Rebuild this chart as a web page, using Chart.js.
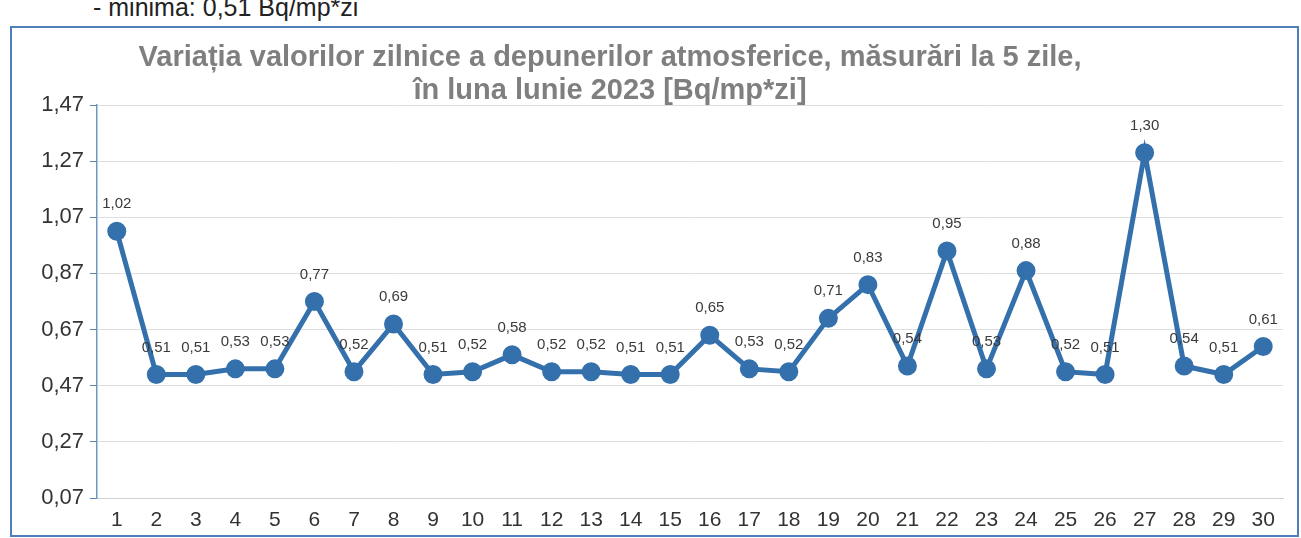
<!DOCTYPE html>
<html>
<head>
<meta charset="utf-8">
<script src="https://cdn.jsdelivr.net/npm/chart.js@4"></script>
<style>
  body { margin: 0; width: 1301px; height: 538px; overflow: hidden; background: #fff; position: relative; font-family: Arial, "Liberation Sans", sans-serif; }
  #note { position: absolute; left: 93px; top: -7px; font-size: 25px; color: #222; white-space: nowrap; }
  #frame { position: absolute; left: 10px; top: 26px; width: 1285px; height: 507px; border: 2px solid #4f7fb8; }
  #title { position: absolute; left: 60px; width: 1100px; top: 40px; text-align: center; font-size: 29px; font-weight: bold; color: #7f7f7f; line-height: 33px; }
  #wrap { position: absolute; left: 0; top: 0; width: 1301px; height: 538px; }
</style>
</head>
<body>
<div id="note">- minima: 0,51 Bq/mp*zi</div>
<div id="frame"></div>
<div id="wrap"><canvas id="chart"></canvas></div>
<div id="title">Variația valorilor zilnice a depunerilor atmosferice, măsurări la 5 zile,<br>în luna lunie 2023 [Bq/mp*zi]</div>
<script>
const days = ['1', '2', '3', '4', '5', '6', '7', '8', '9', '10', '11', '12', '13', '14', '15',
    '16', '17', '18', '19', '20', '21', '22', '23', '24', '25', '26', '27', '28', '29', '30'];
const values = [1.02, 0.51, 0.51, 0.53, 0.53, 0.77, 0.52, 0.69, 0.51, 0.52, 0.58, 0.52, 0.52, 0.51, 0.51,
    0.65, 0.53, 0.52, 0.71, 0.83, 0.54, 0.95, 0.53, 0.88, 0.52, 0.51, 1.30, 0.54, 0.51, 0.61];
const yTicks = { min: 0.07, max: 1.47, step: 0.2 };

const lineColor = '#3470ab';
const fmt = v => v.toFixed(2).replace('.', ',');

// simple value labels above every point
const valueLabels = {
    id: 'valueLabels',
    afterDatasetsDraw(chart) {
        const ctx = chart.ctx;
        const meta = chart.getDatasetMeta(0);
        ctx.save();
        ctx.font = '15px Arial, "Liberation Sans", sans-serif';
        ctx.fillStyle = '#3a3a3a';
        ctx.textAlign = 'center';
        ctx.textBaseline = 'middle';
        meta.data.forEach((pt, i) => {
            ctx.fillText(fmt(values[i]), pt.x, pt.y - 27);
        });
        ctx.restore();
    }
};

const ctx = document.getElementById('chart').getContext('2d');
new Chart(ctx, {
    type: 'line',
    data: {
        labels: days,
        datasets: [{
            data: values,
            borderColor: lineColor,
            backgroundColor: lineColor,
            borderWidth: 5,
            pointRadius: 7,
            pointHoverRadius: 7,
            tension: 0,
        }]
    },
    options: {
        responsive: true,
        maintainAspectRatio: false,
        animation: false,
        layout: { padding: { top: 105, right: 18, left: 0, bottom: 0 } },
        plugins: {
            legend: { display: false },
            tooltip: { enabled: false },
        },
        scales: {
            x: {
                offset: true,
                grid: { display: false, drawTicks: false },
                border: { display: true, color: '#d0d0d0' },
                ticks: {
                    padding: 10,
                    color: '#333',
                    font: { size: 21, family: 'Arial, "Liberation Sans", sans-serif' },
                    maxRotation: 0,
                    autoSkip: false,
                },
                afterFit(scale) { scale.height = 40; },
            },
            y: {
                min: yTicks.min,
                max: yTicks.max,
                grid: {
                    color: '#dedede',
                    tickLength: 7,
                    tickColor: '#5b86b8',
                },
                border: { display: true, color: '#6f95c4', width: 1.5 },
                ticks: {
                    stepSize: yTicks.step,
                    precision: 2,
                    padding: 6,
                    color: '#333',
                    font: { size: 22, family: 'Arial, "Liberation Sans", sans-serif' },
                    callback: v => fmt(v),
                },
                afterFit(scale) { scale.width = 97; },
            }
        }
    },
    plugins: [valueLabels]
});
</script>
</body>
</html>
